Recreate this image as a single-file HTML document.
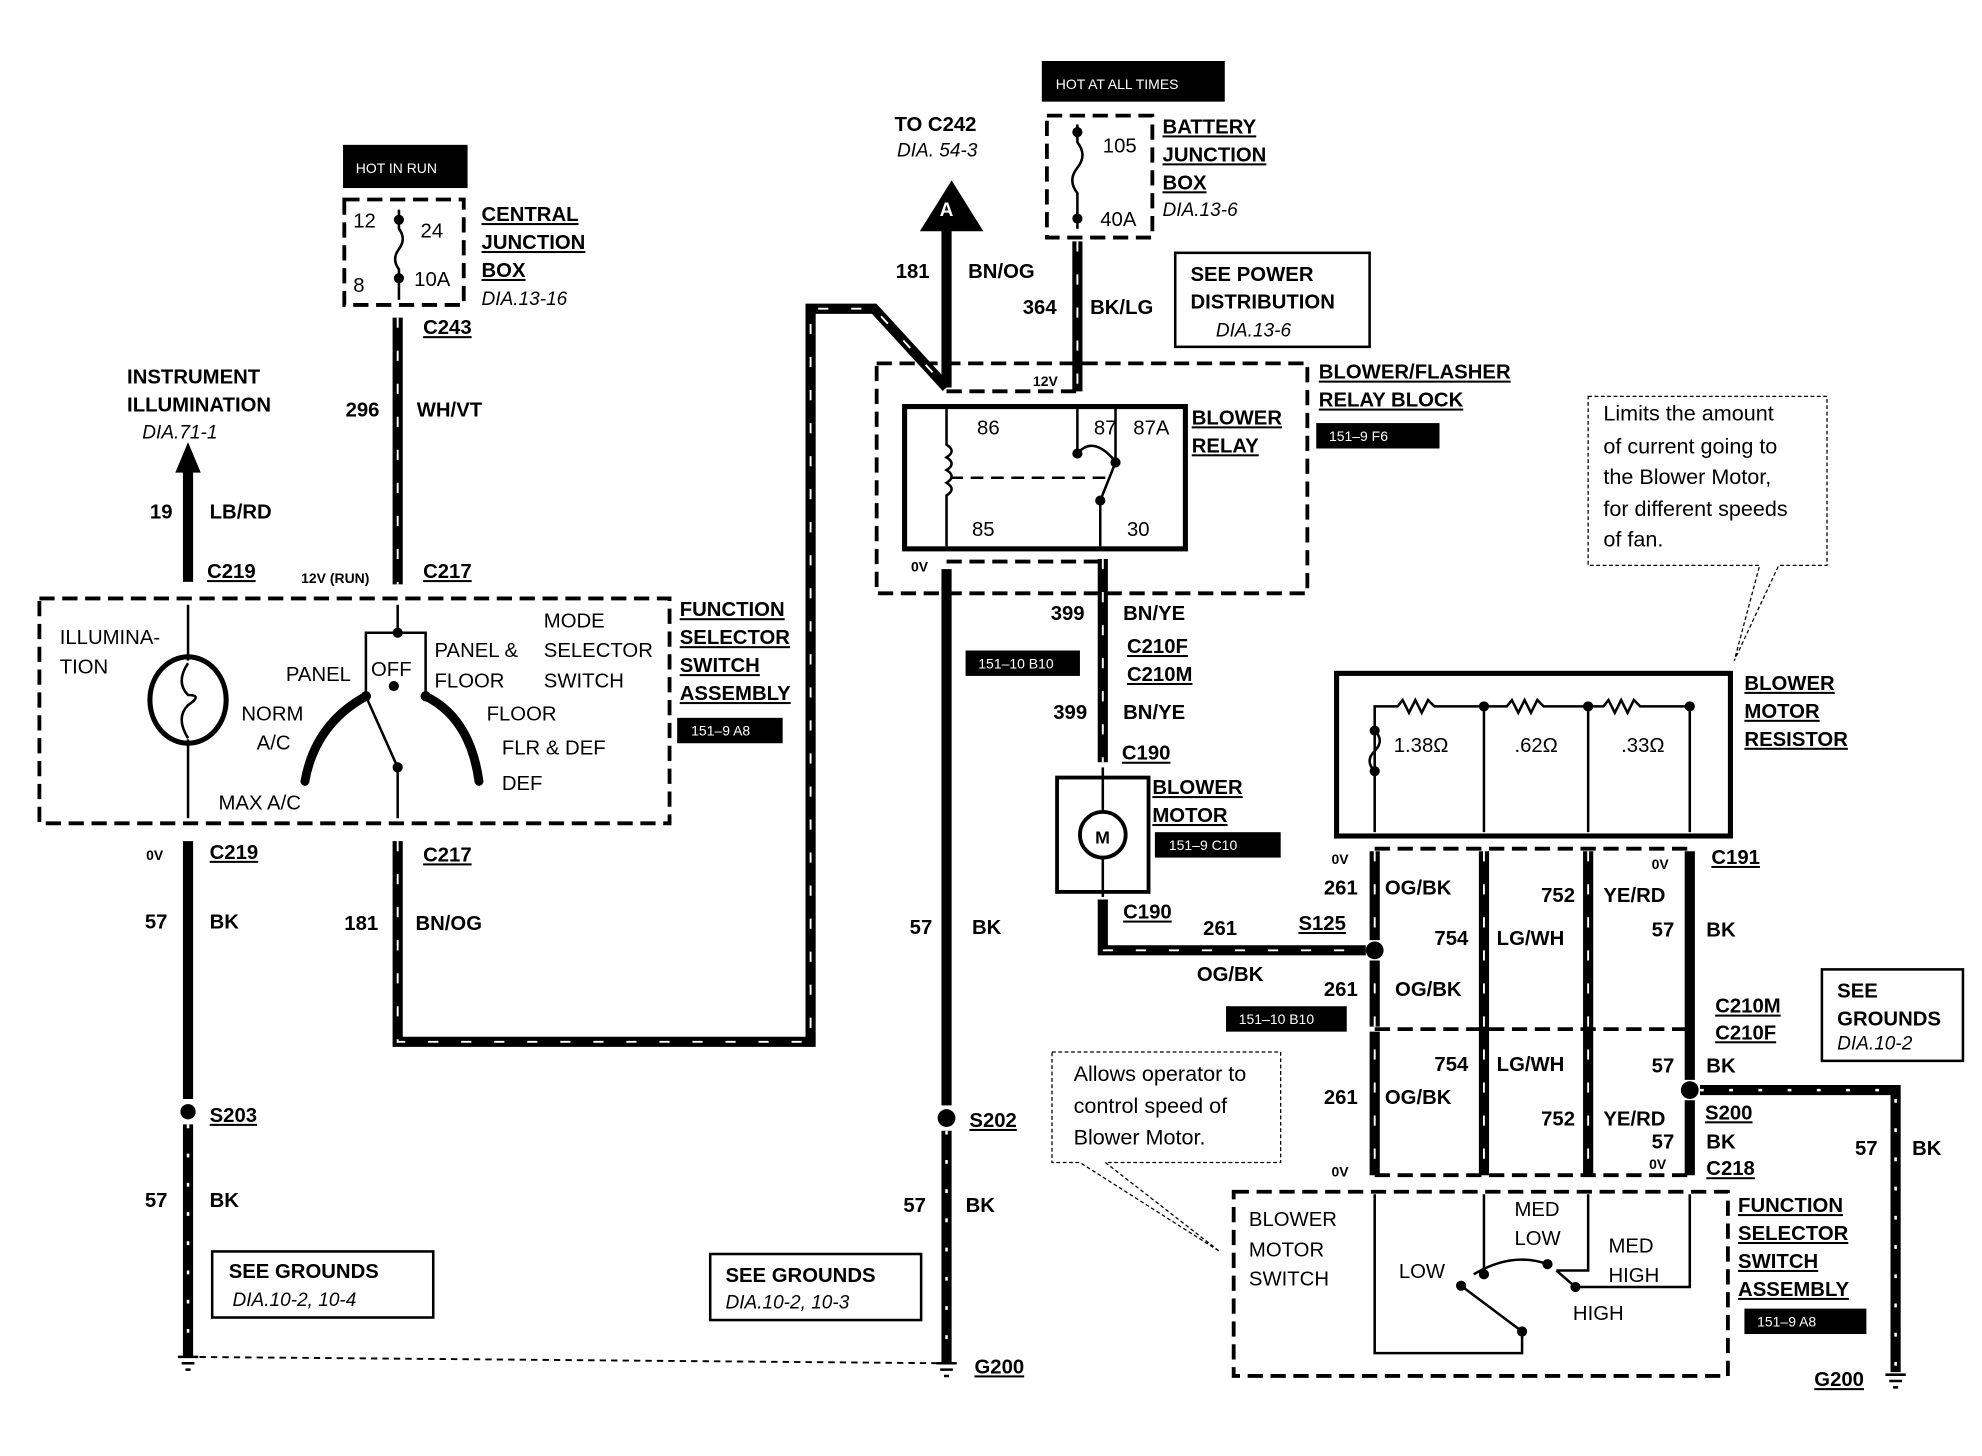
<!DOCTYPE html>
<html><head><meta charset="utf-8"><style>
html,body{margin:0;padding:0;background:#fff;width:1982px;height:1456px;overflow:hidden}
svg{display:block}
text{font-family:"Liberation Sans",Arial,sans-serif;fill:#000}
.b{font-weight:bold;font-size:16px}
.u{font-weight:bold;font-size:16px;text-decoration:underline}
.n{font-size:16px}
.i{font-size:15px;font-style:italic}
.s{font-size:11px;font-weight:bold}
.w{fill:#fff;font-size:11px}
.c{font-size:17px}
</style></head><body>
<svg width="1982" height="1456" viewBox="0 0 1560 1146" preserveAspectRatio="none" xmlns="http://www.w3.org/2000/svg">
<defs>
<marker id="ah" viewBox="0 0 10 10" refX="5" refY="5" markerWidth="4" markerHeight="4" orient="auto-start-reverse"><path d="M0,0 L10,5 L0,10 z" fill="#000"/></marker>
</defs>
<g fill="none" stroke="#000">
<!-- dashed boxes -->
<g stroke-width="3" stroke-dasharray="12,6">
<rect x="271" y="157" width="94" height="83"/>
<rect x="824" y="91" width="83" height="96"/>
<rect x="31" y="471" width="496" height="177"/>
<rect x="690" y="286" width="339" height="181"/>
<rect x="971" y="938" width="389" height="145"/>
<path d="M1082,668 H1330 M1082,810 H1330 M1082,925 H1330 M745,308 H848 M745,442 H868"/>
</g>
<!-- thick wires -->
<g stroke-width="8" stroke-linejoin="miter">
<path d="M313,250 V460"/>
<path d="M148,365 V458"/>
<path d="M148,662 V865 M148,885 V1068"/>
<path d="M313,662 V820 H638 V243 H688 L745,305"/>
<path d="M745,175 V305"/>
<path d="M848,190 V308"/>
<path d="M745,448 V870 M745,890 V1072"/>
<path d="M868,440 V600"/>
<path d="M868,708 V748 H1075"/>
<path d="M1082,670 V740 M1082,756 V808 M1082,812 V925"/>
<path d="M1168,670 V925 M1250,670 V925 M1330,670 V850 M1330,866 V925"/>
<path d="M1338,858 H1492 V1080"/>
</g>
<!-- white dashes in wires -->
<g stroke="#fff" stroke-width="1.5" stroke-dasharray="8,18">
<path d="M313,250 V460 M313,662 V820 H638 V243 H688 L745,305 M848,190 V308 M868,440 V600 M868,748 H1075 M1082,670 V925 M1168,670 V925 M1250,670 V925"/>
</g>
<g stroke="#fff" stroke-width="2" stroke-dasharray="3,20"><path d="M148,885 V1068 M745,890 V1072 M1338,858 H1492 V1080"/></g>
<!-- ground dotted -->
<path d="M148,1068 L745,1073" stroke-width="1.5" stroke-dasharray="5,4"/>
<!-- relay -->
<rect x="712" y="320" width="221" height="112" stroke-width="4"/>
<path d="M745,322 V350 q8,5 0,10 q8,5 0,10 q8,5 0,10 q8,5 0,10 V430 M848,322 V357 M878,320 V364 L866,394 V430" stroke-width="2"/>
<path d="M848,357 q12,-14 28,4" stroke-width="2"/>
<path d="M748,376 H870" stroke-width="2" stroke-dasharray="10,6"/>
<!-- fuses -->
<path d="M314,165 V180 q6,8 0,16 q-6,8 0,16 V236 M848,98 V112 q8,10 0,20 q-8,10 0,20 V180" stroke-width="2"/>
<!-- function selector 1 internals -->
<path d="M148,476 V520 M148,582 V644 M313,476 V498 H288 V548 M313,498 H335 V548 M313,604 V644 M288,548 L313,604" stroke-width="2"/>
<ellipse cx="148" cy="551" rx="30" ry="34" stroke-width="4"/>
<path d="M148,522 q-10,15 0,25 q12,0 0,8 q-10,10 0,26" stroke-width="2"/>
<path d="M288,548 Q248,570 240,615 M335,548 Q370,565 377,615" stroke-width="7" stroke-linecap="round"/>
<!-- motor -->
<rect x="832" y="612" width="72" height="90" stroke-width="3"/>
<circle cx="868" cy="657" r="18" stroke-width="3"/>
<path d="M868,604 V639 M868,675 V706" stroke-width="2"/>
<!-- resistor box -->
<rect x="1052" y="530" width="310" height="128" stroke-width="4"/>
<path d="M1082,655 V575 q8,8 0,16 q-8,8 0,16 M1082,575 V556 H1100 l4,-5 l5,10 l5,-10 l5,10 l5,-10 l5,5 H1168 V655 M1168,556 H1186 l4,-5 l5,10 l5,-10 l5,10 l5,-10 l5,5 H1250 V655 M1250,556 H1262 l4,-5 l5,10 l5,-10 l5,10 l5,-10 l5,5 H1330 V655" stroke-width="2"/>
<!-- switch 2 -->
<path d="M1082,940 V1065 H1198 V1048 L1150,1012 M1168,940 V1003 M1250,940 V1000 H1225 M1330,940 V1013 H1240 L1225,1000 M1160,1003 Q1190,985 1218,995" stroke-width="2"/>
<!-- boxes -->
<rect x="925" y="199" width="153" height="74" stroke-width="2"/>
<rect x="167" y="985" width="174" height="52" stroke-width="2"/>
<rect x="559" y="987" width="166" height="52" stroke-width="2"/>
<rect x="1434" y="763" width="111" height="72" stroke-width="2"/>
<!-- callouts -->
<path d="M1250,312 H1438 V445 H1400 L1365,520 L1385,445 H1250 Z" stroke-width="1" stroke-dasharray="3,2"/>
<path d="M828,828 H1008 V915 H870 L960,985 L850,915 H828 Z" stroke-width="1" stroke-dasharray="3,2"/>
<!-- ground symbols -->
<path d="M140,1068 H156 M143,1073 H153 M146,1078 H150 M737,1073 H753 M740,1078 H750 M743,1083 H747 M1484,1082 H1500 M1487,1087 H1497 M1490,1092 H1494" stroke-width="2"/>
</g>
<!-- dots -->
<g fill="#000">
<circle cx="148" cy="875" r="6"/><circle cx="745" cy="880" r="7"/><circle cx="1082" cy="748" r="7"/><circle cx="1330" cy="858" r="7"/>
<circle cx="313" cy="498" r="4"/><circle cx="310" cy="540" r="4"/><circle cx="288" cy="548" r="4"/><circle cx="335" cy="548" r="4"/><circle cx="313" cy="604" r="4"/>
<circle cx="848" cy="357" r="4"/><circle cx="878" cy="364" r="4"/><circle cx="866" cy="394" r="4"/>
<circle cx="314" cy="173" r="4"/><circle cx="314" cy="219" r="4"/><circle cx="848" cy="104" r="4"/><circle cx="848" cy="172" r="4"/>
<circle cx="1082" cy="575" r="4"/><circle cx="1082" cy="607" r="4"/><circle cx="1168" cy="556" r="4"/><circle cx="1250" cy="556" r="4"/><circle cx="1330" cy="556" r="4"/>
<circle cx="1168" cy="1003" r="4"/><circle cx="1150" cy="1012" r="4"/><circle cx="1198" cy="1048" r="4"/><circle cx="1218" cy="995" r="4"/><circle cx="1240" cy="1013" r="4"/>
<path d="M148,348 L138,372 H158 Z"/>
<path d="M749,142 L724,182 H774 Z"/>
<rect x="270" y="114" width="98" height="34"/><rect x="820" y="48" width="144" height="32"/>
<rect x="1036" y="333" width="97" height="20"/><rect x="760" y="512" width="90" height="20"/><rect x="533" y="565" width="83" height="20"/>
<rect x="909" y="655" width="99" height="20"/><rect x="965" y="792" width="95" height="20"/><rect x="1373" y="1030" width="96" height="20"/>
</g>
<text x="745" y="170" fill="#fff" style="fill:#fff;font-weight:bold;font-size:15px" text-anchor="middle">A</text>
<text x="862" y="664" class="b" style="font-size:14px">M</text>
<text x="280" y="136" class="w" style="fill:#fff">HOT IN RUN</text>
<text x="831" y="70" class="w" style="fill:#fff">HOT AT ALL TIMES</text>
<text x="1046" y="347" class="w" style="fill:#fff">151–9 F6</text>
<text x="770" y="526" class="w" style="fill:#fff">151–10 B10</text>
<text x="544" y="579" class="w" style="fill:#fff">151–9 A8</text>
<text x="920" y="669" class="w" style="fill:#fff">151–9 C10</text>
<text x="975" y="806" class="w" style="fill:#fff">151–10 B10</text>
<text x="1383" y="1044" class="w" style="fill:#fff">151–9 A8</text>
<!-- labels -->
<text x="278" y="179" class="n">12</text><text x="331" y="187" class="n">24</text><text x="278" y="230" class="n">8</text><text x="326" y="225" class="n">10A</text>
<text x="379" y="174" class="u">CENTRAL</text><text x="379" y="196" class="u">JUNCTION</text><text x="379" y="218" class="u">BOX</text><text x="379" y="240" class="i">DIA.13-16</text>
<text x="333" y="263" class="u">C243</text>
<text x="272" y="328" class="b">296</text><text x="328" y="328" class="b">WH/VT</text>
<text x="100" y="302" class="b">INSTRUMENT</text><text x="100" y="324" class="b">ILLUMINATION</text><text x="112" y="345" class="i">DIA.71-1</text>
<text x="118" y="408" class="b">19</text><text x="165" y="408" class="b">LB/RD</text>
<text x="163" y="455" class="u">C219</text><text x="237" y="459" class="s">12V (RUN)</text><text x="333" y="455" class="u">C217</text>
<text x="47" y="507" class="n">ILLUMINA-</text><text x="47" y="530" class="n">TION</text>
<text x="428" y="494" class="n">MODE</text><text x="342" y="517" class="n">PANEL &amp;</text><text x="428" y="517" class="n">SELECTOR</text>
<text x="225" y="536" class="n">PANEL</text><text x="292" y="532" class="n">OFF</text><text x="342" y="541" class="n">FLOOR</text><text x="428" y="541" class="n">SWITCH</text>
<text x="190" y="567" class="n">NORM</text><text x="202" y="590" class="n">A/C</text><text x="383" y="567" class="n">FLOOR</text><text x="395" y="594" class="n">FLR &amp; DEF</text><text x="395" y="622" class="n">DEF</text>
<text x="172" y="637" class="n">MAX A/C</text>
<text x="535" y="485" class="u">FUNCTION</text><text x="535" y="507" class="u">SELECTOR</text><text x="535" y="529" class="u">SWITCH</text><text x="535" y="551" class="u">ASSEMBLY</text>
<text x="115" y="677" class="s">0V</text><text x="165" y="676" class="u">C219</text><text x="333" y="678" class="u">C217</text>
<text x="114" y="731" class="b">57</text><text x="165" y="731" class="b">BK</text><text x="271" y="732" class="b">181</text><text x="327" y="732" class="b">BN/OG</text>
<text x="165" y="883" class="u">S203</text>
<text x="114" y="950" class="b">57</text><text x="165" y="950" class="b">BK</text>
<text x="180" y="1006" class="b">SEE GROUNDS</text><text x="183" y="1028" class="i">DIA.10-2, 10-4</text>
<text x="571" y="1009" class="b">SEE GROUNDS</text><text x="571" y="1030" class="i">DIA.10-2, 10-3</text>
<text x="704" y="103" class="b">TO  C242</text><text x="706" y="123" class="i">DIA. 54-3</text>
<text x="915" y="105" class="u">BATTERY</text><text x="915" y="127" class="u">JUNCTION</text><text x="915" y="149" class="u">BOX</text><text x="915" y="170" class="i">DIA.13-6</text>
<text x="868" y="120" class="n">105</text><text x="866" y="178" class="n">40A</text>
<text x="705" y="219" class="b">181</text><text x="762" y="219" class="b">BN/OG</text>
<text x="805" y="247" class="b">364</text><text x="858" y="247" class="b">BK/LG</text>
<text x="937" y="221" class="b">SEE POWER</text><text x="937" y="243" class="b">DISTRIBUTION</text><text x="957" y="265" class="i">DIA.13-6</text>
<text x="813" y="304" class="s">12V</text>
<text x="1038" y="298" class="u">BLOWER/FLASHER</text><text x="1038" y="320" class="u">RELAY BLOCK</text>
<text x="938" y="334" class="u">BLOWER</text><text x="938" y="356" class="u">RELAY</text>
<text x="769" y="342" class="n">86</text><text x="861" y="342" class="n">87</text><text x="892" y="342" class="n">87A</text>
<text x="765" y="422" class="n">85</text><text x="887" y="422" class="n">30</text>
<text x="717" y="450" class="s">0V</text>
<text x="827" y="488" class="b">399</text><text x="884" y="488" class="b">BN/YE</text>
<text x="887" y="514" class="u">C210F</text><text x="887" y="536" class="u">C210M</text>
<text x="829" y="566" class="b">399</text><text x="884" y="566" class="b">BN/YE</text>
<text x="883" y="598" class="u">C190</text>
<text x="907" y="625" class="u">BLOWER</text><text x="907" y="647" class="u">MOTOR</text>
<text x="884" y="723" class="u">C190</text>
<text x="947" y="736" class="b">261</text><text x="1022" y="732" class="u">S125</text><text x="942" y="772" class="b">OG/BK</text>
<text x="716" y="735" class="b">57</text><text x="765" y="735" class="b">BK</text>
<text x="763" y="887" class="u">S202</text>
<text x="711" y="954" class="b">57</text><text x="760" y="954" class="b">BK</text>
<text x="767" y="1081" class="u">G200</text>
<text x="1262" y="331" class="c">Limits the amount</text><text x="1262" y="357" class="c">of current going to</text><text x="1262" y="381" class="c">the Blower Motor,</text><text x="1262" y="406" class="c">for different speeds</text><text x="1262" y="430" class="c">of fan.</text>
<text x="1373" y="543" class="u">BLOWER</text><text x="1373" y="565" class="u">MOTOR</text><text x="1373" y="587" class="u">RESISTOR</text>
<text x="1097" y="592" class="n">1.38Ω</text><text x="1192" y="592" class="n">.62Ω</text><text x="1276" y="592" class="n">.33Ω</text>
<text x="1048" y="680" class="s">0V</text><text x="1300" y="684" class="s">0V</text><text x="1347" y="680" class="u">C191</text>
<text x="1042" y="704" class="b">261</text><text x="1090" y="704" class="b">OG/BK</text><text x="1213" y="710" class="b">752</text><text x="1262" y="710" class="b">YE/RD</text>
<text x="1129" y="744" class="b">754</text><text x="1178" y="744" class="b">LG/WH</text><text x="1300" y="737" class="b">57</text><text x="1343" y="737" class="b">BK</text>
<text x="1042" y="784" class="b">261</text><text x="1098" y="784" class="b">OG/BK</text>
<text x="1350" y="797" class="u">C210M</text><text x="1350" y="818" class="u">C210F</text>
<text x="1446" y="785" class="b">SEE</text><text x="1446" y="807" class="b">GROUNDS</text><text x="1446" y="826" class="i">DIA.10-2</text>
<text x="1129" y="843" class="b">754</text><text x="1178" y="843" class="b">LG/WH</text><text x="1300" y="844" class="b">57</text><text x="1343" y="844" class="b">BK</text>
<text x="1042" y="869" class="b">261</text><text x="1090" y="869" class="b">OG/BK</text>
<text x="1213" y="886" class="b">752</text><text x="1262" y="886" class="b">YE/RD</text><text x="1342" y="881" class="u">S200</text>
<text x="1300" y="904" class="b">57</text><text x="1343" y="904" class="b">BK</text><text x="1460" y="909" class="b">57</text><text x="1505" y="909" class="b">BK</text>
<text x="1048" y="926" class="s">0V</text><text x="1298" y="920" class="s">0V</text><text x="1343" y="925" class="u">C218</text>
<text x="845" y="851" class="c">Allows operator to</text><text x="845" y="876" class="c">control speed of</text><text x="845" y="901" class="c">Blower Motor.</text>
<text x="983" y="965" class="n">BLOWER</text><text x="983" y="989" class="n">MOTOR</text><text x="983" y="1012" class="n">SWITCH</text>
<text x="1192" y="957" class="n">MED</text><text x="1192" y="980" class="n">LOW</text><text x="1101" y="1006" class="n">LOW</text><text x="1266" y="986" class="n">MED</text><text x="1266" y="1009" class="n">HIGH</text><text x="1238" y="1039" class="n">HIGH</text>
<text x="1368" y="954" class="u">FUNCTION</text><text x="1368" y="976" class="u">SELECTOR</text><text x="1368" y="998" class="u">SWITCH</text><text x="1368" y="1020" class="u">ASSEMBLY</text>
<text x="1428" y="1091" class="u">G200</text>
</svg>
</body></html>
